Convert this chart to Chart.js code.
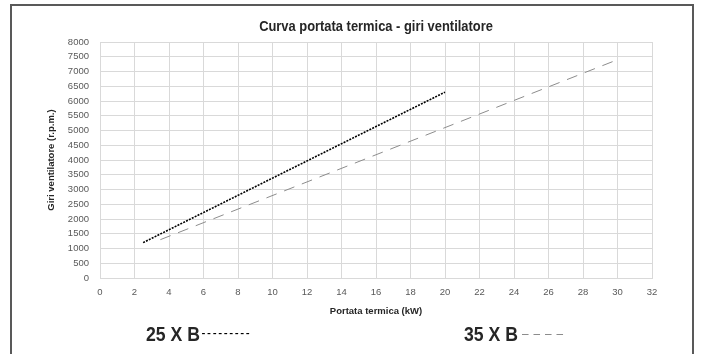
<!DOCTYPE html>
<html>
<head>
<meta charset="utf-8">
<script src="https://cdn.jsdelivr.net/npm/chart.js@4.4.1/dist/chart.umd.min.js"></script>
<style>
  body { margin: 0; background: #fff; font-family: "Liberation Sans", Arial, sans-serif; }
  #wrap { position: relative; width: 702px; height: 354px; overflow: hidden; }
  #frame { position: absolute; left: 10px; top: 4px; width: 684px; height: 400px; border: 2px solid #595959; box-sizing: border-box; }
  #chart { position: absolute; left: 0; top: 0; }
  .title { position: absolute; left: 100px; width: 552px; top: 17px; text-align: center; font-weight: bold; font-size: 15px; color: #262626; transform: scaleX(0.86); }
  .leg { position: absolute; top: 322px; font-weight: bold; font-size: 21px; color: #262626; white-space: nowrap; transform: scaleX(0.84); transform-origin: 0 0; }
  .leg span { font-size: 14px; vertical-align: 3px; }
</style>
</head>
<body>
<div id="wrap">
  <div id="frame"></div>
  <canvas id="chart" width="702" height="354"></canvas>
  <div class="title">Curva portata termica - giri ventilatore</div>
  <div class="leg" style="left:146px">25 X B<span style="color:#000;font-weight:normal;letter-spacing:1.9px;margin-left:2px">---------</span></div>
  <div class="leg" style="left:464px">35 X B<span style="color:#8c8c8c;font-weight:normal;letter-spacing:1px"> – – – –</span></div>
</div>
<script>
// portata termica (kW) / giri ventilatore (r.p.m.)
const kw25 = [2.5, 20];
const rpm25 = [1200, 6300];
const kw35 = [3.5, 30];
const rpm35 = [1300, 7400];

const seriesNames = ['25 X B', '35 X B'];

const toPoints = (xs, ys) => xs.map((x, i) => ({ x: x, y: ys[i] }));

const tickFont = { family: '"Liberation Sans", Arial, sans-serif', size: 9.5 };
const titleFont = { family: '"Liberation Sans", Arial, sans-serif', size: 9.5, weight: 'bold' };

new Chart(document.getElementById('chart'), {
    type: 'scatter',
    data: {
        datasets: [{
            label: seriesNames[0],
            data: toPoints(kw25, rpm25),
            showLine: true,
            borderColor: '#000000',
            borderWidth: 1.6,
            borderDash: [2, 1.2],
            pointRadius: 0
        }, {
            label: seriesNames[1],
            data: toPoints(kw35, rpm35),
            showLine: true,
            borderColor: '#8c8c8c',
            borderWidth: 1,
            borderDash: [11, 8],
            pointRadius: 0
        }]
    },
    options: {
        responsive: false,
        animation: false,
        layout: { padding: { left: 0, right: 50, top: 42, bottom: 0 } },
        plugins: {
            legend: { display: false },
            tooltip: { enabled: false }
        },
        scales: {
            x: {
                type: 'linear',
                min: 0,
                max: 32,
                ticks: { stepSize: 2, color: '#595959', font: tickFont, padding: 9, maxRotation: 0, callback: v => String(v) },
                grid: { color: '#d9d9d9', drawTicks: false },
                border: { color: '#d9d9d9' },
                title: { display: true, text: 'Portata termica (kW)', color: '#262626', font: titleFont, padding: { bottom: 37 } },
                afterFit: s => { s.height = 76; }
            },
            y: {
                min: 0,
                max: 8000,
                ticks: { stepSize: 500, color: '#595959', font: tickFont, padding: 11, callback: v => String(v) },
                grid: { color: '#d9d9d9', drawTicks: false },
                border: { color: '#d9d9d9' },
                title: { display: true, text: 'Giri ventilatore (r.p.m.)', color: '#262626', font: titleFont, padding: { top: 46 } },
                afterFit: s => { s.width = 100; }
            }
        }
    }
});
</script>
</body>
</html>
